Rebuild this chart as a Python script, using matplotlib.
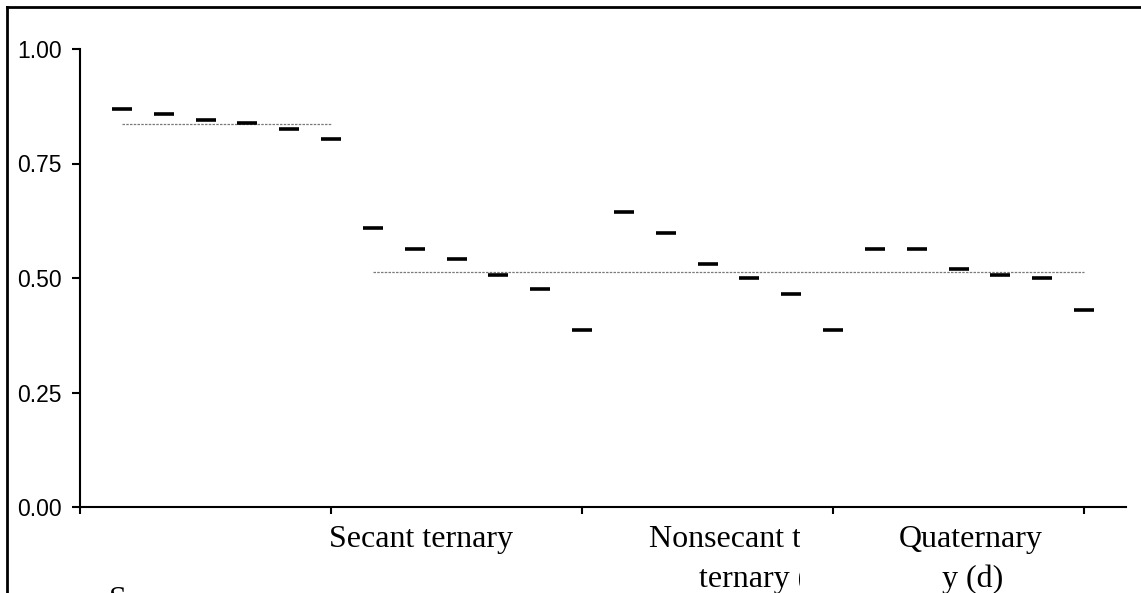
import matplotlib
import numpy as np

matplotlib.use('Agg')
import matplotlib.pyplot as plt
from matplotlib.lines import Line2D
from matplotlib.transforms import Bbox

# values, 6 per group
values = [0.868, 0.857, 0.845, 0.838, 0.826, 0.803,
          0.610, 0.564, 0.541, 0.507, 0.477, 0.386,
          0.644, 0.599, 0.530, 0.499, 0.465, 0.386,
          0.564, 0.564, 0.519, 0.507, 0.499, 0.431]
positions = np.arange(1, len(values) + 1)

# reference (mean) lines: start, end, level
mean_spans = [(1, 6, 0.836), (7, 24, 0.513)]

y_ticks = [0.00, 0.25, 0.50, 0.75, 1.00]
x_ticks = [0, 6, 12, 18, 24]

# group label lines: (x position, text, line number, clipped?)
group_labels = [(5.96, 'Secant ternary', 0, False),
                (13.59, 'Nonsecant t', 0, True),
                (14.8, 'ternary (', 1, True),
                (19.57, 'Quaternary', 0, False),
                (20.6, 'y (d)', 1, False)]

fig = plt.figure(figsize=(11.41, 5.93), dpi=100)
W, H = 1141, 593
ax = fig.add_axes([80 / W, (H - 507) / H, (1126 - 80) / W, (507 - 49) / H])

for start, end, level in mean_spans:
    ax.plot([start, end], [level, level], color='#7a7a7a', lw=0.9,
            linestyle=(0, (2, 1)), zorder=1)

ax.plot(positions, values, linestyle='none', marker='_', markersize=14.6,
        markeredgewidth=2.6, color='black', zorder=2)

ax.set_xlim(0, 25)
ax.set_ylim(0, 1)
ax.set_yticks(y_ticks)
ax.set_yticklabels(['%.2f' % t for t in y_ticks], family='Liberation Sans', fontsize=16.5)
ax.set_xticks(x_ticks)
ax.set_xticklabels([])
ax.tick_params(axis='y', direction='out', length=6, width=1.5, pad=7)
ax.tick_params(axis='x', direction='out', length=5, width=1.5)
for side in ['top', 'right']:
    ax.spines[side].set_visible(False)
for side in ['left', 'bottom']:
    ax.spines[side].set_linewidth(1.5)

clip = Bbox.from_extents(0, 0, 800, H)
for xpos, txt, line, clipped in group_labels:
    t = ax.annotate(txt, xy=(xpos, 0), xytext=(0, -40 - 40 * line),
                    textcoords='offset pixels', ha='left', va='baseline',
                    family='Liberation Serif', fontsize=23, annotation_clip=False)
    if clipped:
        t.set_clip_on(True)
        t.set_clip_box(clip)

# stray letter cut off by the bottom edge, as in the reference
fig.text(109 / W, -15 / H, 'S', family='Liberation Serif', fontsize=23,
         ha='left', va='baseline')

# outer frame, only top and left edges are inside the picture
fig.add_artist(Line2D([7 / W, 7 / W], [0, (H - 7) / H], color='black', lw=2))
fig.add_artist(Line2D([7 / W, 1], [(H - 7) / H, (H - 7) / H], color='black', lw=2))

fig.savefig('out.png', dpi=100)
